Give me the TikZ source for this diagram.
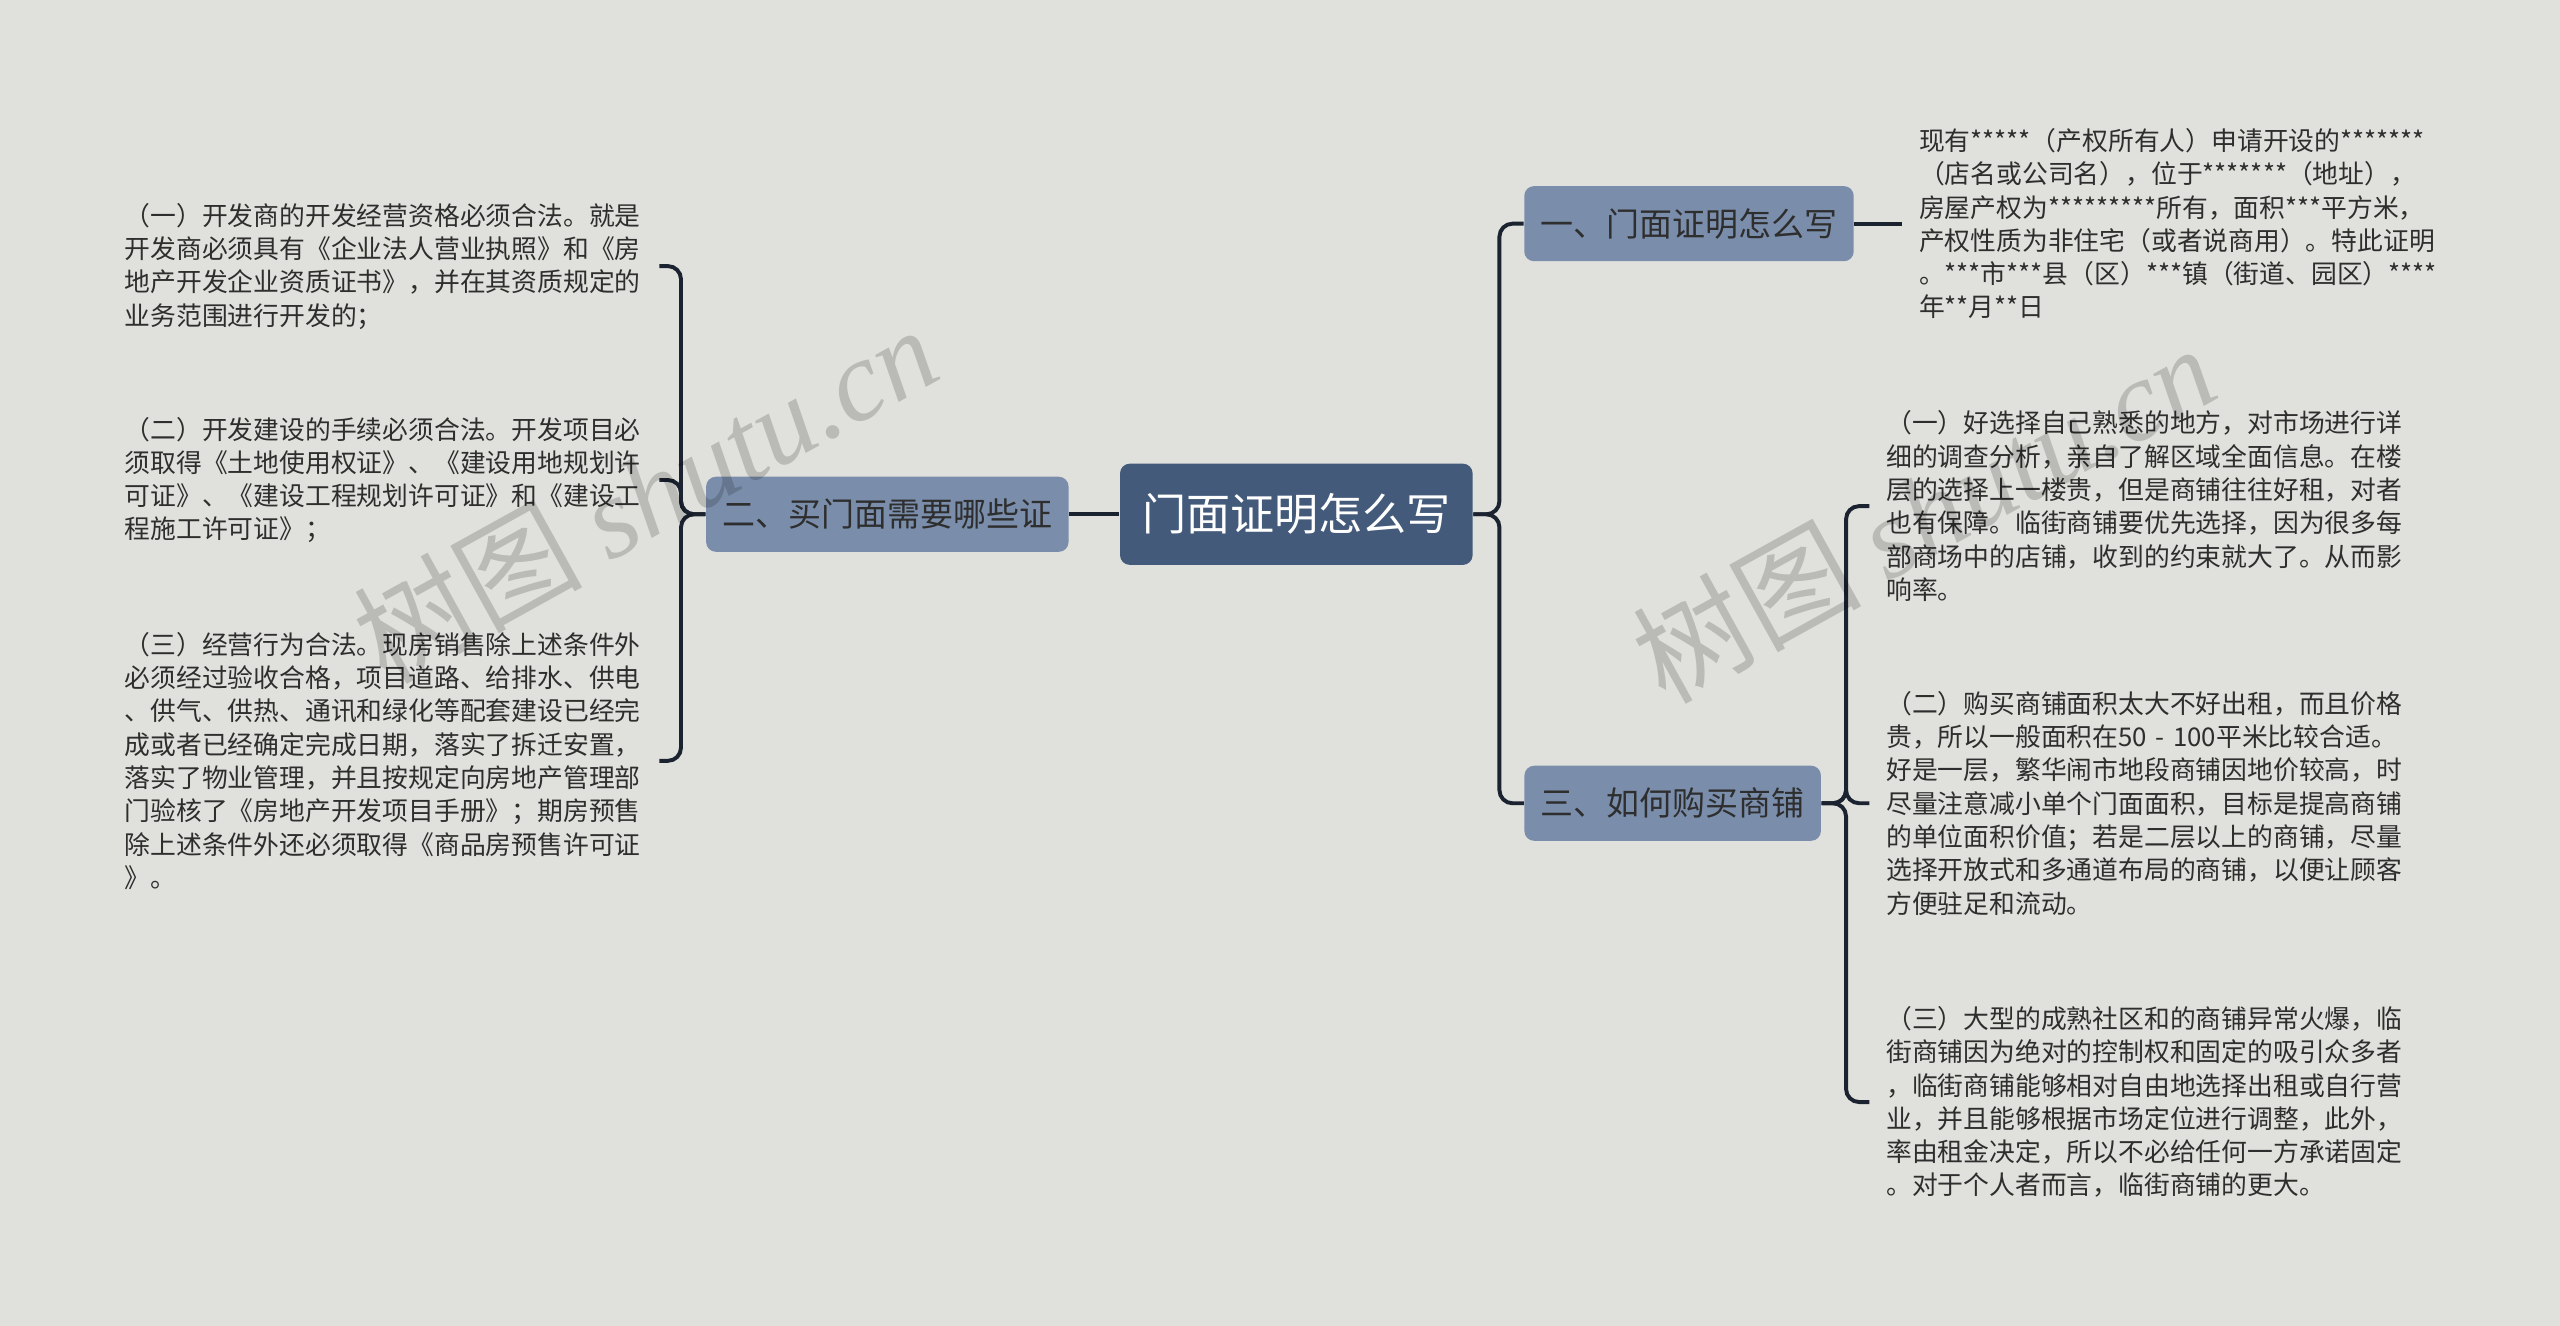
\documentclass[tikz,border=0pt]{standalone}
\usepackage{fontspec}
\setmainfont{Noto Sans CJK SC}
\newfontfamily\wmfont{Liberation Serif}
\usetikzlibrary{positioning}

\definecolor{bgpaper}{HTML}{E0E1DC}
\definecolor{rootblue}{HTML}{435A7A}
\definecolor{topicblue}{HTML}{7A8EAC}
\definecolor{linkdark}{HTML}{1B2230}
\definecolor{inkgray}{HTML}{2E2E2E}

\begin{document}
\begin{tikzpicture}[x=0.5pt, y=-0.5pt,
  root/.style={rectangle, rounded corners=3pt, fill=rootblue, text=white,
    font=\fontsize{13.5pt}{16pt}\selectfont, minimum height=31pt, inner xsep=6.75pt},
  topic/.style={rectangle, rounded corners=3pt, fill=topicblue, text=inkgray,
    font=\fontsize{10.1pt}{12pt}\selectfont, minimum height=23pt, inner xsep=5pt},
  leaf/.style={anchor=west, inner sep=0pt, text width=158.5pt, align=left,
    text=inkgray, font=\fontsize{7.9pt}{10.2pt}\selectfont},
  link/.style={draw=linkdark, line width=1.2pt, rounded corners=4pt},
  wm/.style={text=black, text opacity=0.17, font=\fontsize{35pt}{37pt}\selectfont}]

  \fill[bgpaper] (0,0) rectangle (1568,812);
  \useasboundingbox (0,0) rectangle (1568,812);

  % middle and first level
  \node[root] (root) at (794,315) {门面证明怎么写};
  \node[topic] (sub2) at (543.5,315) {二、买门面需要哪些证};
  \node[topic] (sub1) at (1034.5,137) {一、门面证明怎么写};
  \node[topic] (sub3) at (1024.5,492) {三、如何购买商铺};

  % left leaves
  \node[leaf] (l1) at (76,163) {（一）开发商的开发经营资格必须合法。就是\\
开发商必须具有《企业法人营业执照》和《房\\
地产开发企业资质证书》，并在其资质规定的\\
业务范围进行开发的；};
  \node[leaf] (l2) at (76,294) {（二）开发建设的手续必须合法。开发项目必\\
须取得《土地使用权证》、《建设用地规划许\\
可证》、《建设工程规划许可证》和《建设工\\
程施工许可证》；};
  \node[leaf] (l3) at (76,466) {（三）经营行为合法。现房销售除上述条件外\\
必须经过验收合格，项目道路、给排水、供电\\
、供气、供热、通讯和绿化等配套建设已经完\\
成或者已经确定完成日期，落实了拆迁安置，\\
落实了物业管理，并且按规定向房地产管理部\\
门验核了《房地产开发项目手册》；期房预售\\
除上述条件外还必须取得《商品房预售许可证\\
》。};

  % right leaves
  \node[leaf] (ra) at (1175,137) {现有*****（产权所有人）申请开设的*******\\
（店名或公司名），位于*******（地址），\\
房屋产权为*********所有，面积***平方米，\\
产权性质为非住宅（或者说商用）。特此证明\\
。***市***县（区）***镇（街道、园区）****\\
年**月**日};
  \node[leaf] (rb1) at (1155,310) {（一）好选择自己熟悉的地方，对市场进行详\\
细的调查分析，亲自了解区域全面信息。在楼\\
层的选择上一楼贵，但是商铺往往好租，对者\\
也有保障。临街商铺要优先选择，因为很多每\\
部商场中的店铺，收到的约束就大了。从而影\\
响率。};
  \node[leaf] (rb2) at (1155,492) {（二）购买商铺面积太大不好出租，而且价格\\
贵，所以一般面积在50~-~100平米比较合适。\\
好是一层，繁华闹市地段商铺因地价较高，时\\
尽量注意减小单个门面面积，目标是提高商铺\\
的单位面积价值；若是二层以上的商铺，尽量\\
选择开放式和多通道布局的商铺，以便让顾客\\
方便驻足和流动。};
  \node[leaf] (rb3) at (1155,675) {（三）大型的成熟社区和的商铺异常火爆，临\\
街商铺因为绝对的控制权和固定的吸引众多者\\
，临街商铺能够相对自由地选择出租或自行营\\
业，并且能够根据市场定位进行调整，此外，\\
率由租金决定，所以不必给任何一方承诺固定\\
。对于个人者而言，临街商铺的更大。};

  % connectors
  \draw[link] (root.west) -- (sub2.east);
  \draw[link] (root.east) -- ++(16,0) |- (sub1.west);
  \draw[link] (root.east) -- ++(16,0) |- (sub3.west);
  \draw[link] (sub2.west) -- ++(-15,0) |- ([xshift=5pt]l1.east);
  \draw[link] (sub2.west) -- ++(-15,0) |- ([xshift=5pt]l2.east);
  \draw[link] (sub2.west) -- ++(-15,0) |- ([xshift=5pt]l3.east);
  \draw[link] (sub1.east) -- ([xshift=-5pt]ra.west);
  \draw[link] (sub3.east) -- ++(15,0) |- ([xshift=-5pt]rb1.west);
  \draw[link] (sub3.east) -- ++(15,0) |- ([xshift=-5pt]rb2.west);
  \draw[link] (sub3.east) -- ++(15,0) |- ([xshift=-5pt]rb3.west);

  % watermarks
  \node[wm, rotate=29] (wm1) at (395,302) {树图 {\wmfont\itshape shutu.cn}};
  \node[wm, rotate=29] (wm2) at (1178,314) {树图 {\wmfont\itshape shutu.cn}};
\end{tikzpicture}
\end{document}
